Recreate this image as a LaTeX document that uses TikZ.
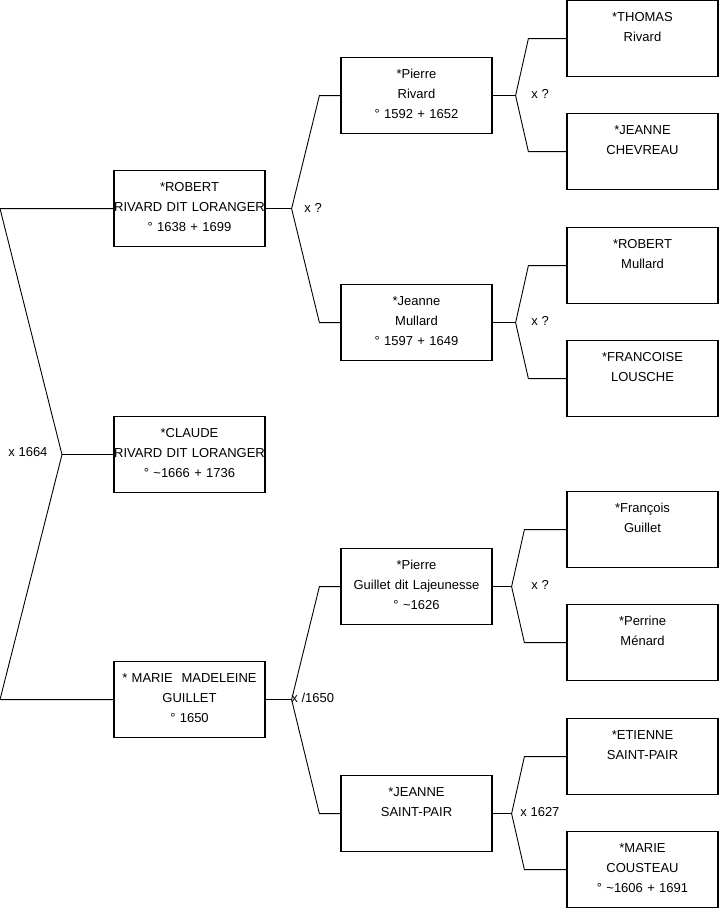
\documentclass[tikz,border=0pt]{standalone}
\usepackage{fontspec}
\setmainfont{Liberation Sans}
\usetikzlibrary{calc}
\begin{document}
\begin{tikzpicture}[x=1pt, y=-1pt, font=\fontsize{13}{20}\selectfont, line width=0.9pt]
\tikzstyle{pers}=[draw, line width=1.2pt, anchor=north, text width=151pt, align=center, inner sep=0pt, text height=20.5pt, text depth=55.5pt]
\tikzstyle{wed}=[anchor=west, inner sep=0pt]
\useasboundingbox (0,0) rectangle (719,908);
% children
\node[pers] (robert) at (189.5,170) {*ROBERT\\RIVARD DIT LORANGER\\° 1638 + 1699};
\node[pers] (claude) at (189.5,416) {*CLAUDE\\RIVARD DIT LORANGER\\° \textasciitilde1666 + 1736};
\node[pers] (marie) at (189.5,661) {*~MARIE~~MADELEINE\\GUILLET\\° 1650};
% parents
\node[pers] (pierreR) at (416.5,57) {*Pierre\\Rivard\\° 1592 + 1652};
\node[pers] (jeanneM) at (416.5,284) {*Jeanne\\Mullard\\° 1597 + 1649};
\node[pers] (pierreG) at (416.5,548) {*Pierre\\Guillet dit Lajeunesse\\° \textasciitilde1626};
\node[pers] (jeanneS) at (416.5,775) {*JEANNE\\SAINT-PAIR};
% grandparents
\node[pers] (thomas) at (642.5,0) {*THOMAS\\Rivard};
\node[pers] (chevreau) at (642.5,113) {*JEANNE\\CHEVREAU};
\node[pers] (robertM) at (642.5,227) {*ROBERT\\Mullard};
\node[pers] (lousche) at (642.5,340) {*FRANCOISE\\LOUSCHE};
\node[pers] (francois) at (642.5,491) {*François\\Guillet};
\node[pers] (menard) at (642.5,604) {*Perrine\\Ménard};
\node[pers] (etienne) at (642.5,718) {*ETIENNE\\SAINT-PAIR};
\node[pers] (cousteau) at (642.5,831) {*MARIE\\COUSTEAU\\° \textasciitilde1606 + 1691};
% marriages
\node[wed] (m0) at (8,452) {x 1664};
\node[wed] (m1) at (304,208) {x ?};
\node[wed] (m2) at (291,698) {x /1650};
\node[wed] (m3) at (531,94) {x ?};
\node[wed] (m4) at (531,321) {x ?};
\node[wed] (m5) at (531,585) {x ?};
\node[wed] (m6) at (520,812) {x 1627};
% forks
\coordinate (f0) at (claude.west -| 62,0);
\draw (robert.west) -- (robert.west -| 0,0) -- (f0) -- (marie.west -| 0,0) -- (marie.west);
\draw (f0) -- (claude.west);
\draw (robert.east) -- ++(26,0) coordinate (f1);
\draw (pierreR.west) -- ++(-21,0) -- (f1) -- ($(jeanneM.west)+(-21,0)$) -- (jeanneM.west);
\draw (marie.east) -- ++(26,0) coordinate (f4);
\draw (pierreG.west) -- ++(-21,0) -- (f4) -- ($(jeanneS.west)+(-21,0)$) -- (jeanneS.west);
\draw (pierreR.east) -- ++(23,0) coordinate (f2);
\draw (thomas.west) -- ++(-38,0) -- (f2) -- ($(chevreau.west)+(-38,0)$) -- (chevreau.west);
\draw (jeanneM.east) -- ++(23,0) coordinate (f3);
\draw (robertM.west) -- ++(-38,0) -- (f3) -- ($(lousche.west)+(-38,0)$) -- (lousche.west);
\draw (pierreG.east) -- ++(19,0) coordinate (f5);
\draw (francois.west) -- ++(-42,0) -- (f5) -- ($(menard.west)+(-42,0)$) -- (menard.west);
\draw (jeanneS.east) -- ++(19,0) coordinate (f6);
\draw (etienne.west) -- ++(-42,0) -- (f6) -- ($(cousteau.west)+(-42,0)$) -- (cousteau.west);
\end{tikzpicture}
\end{document}
